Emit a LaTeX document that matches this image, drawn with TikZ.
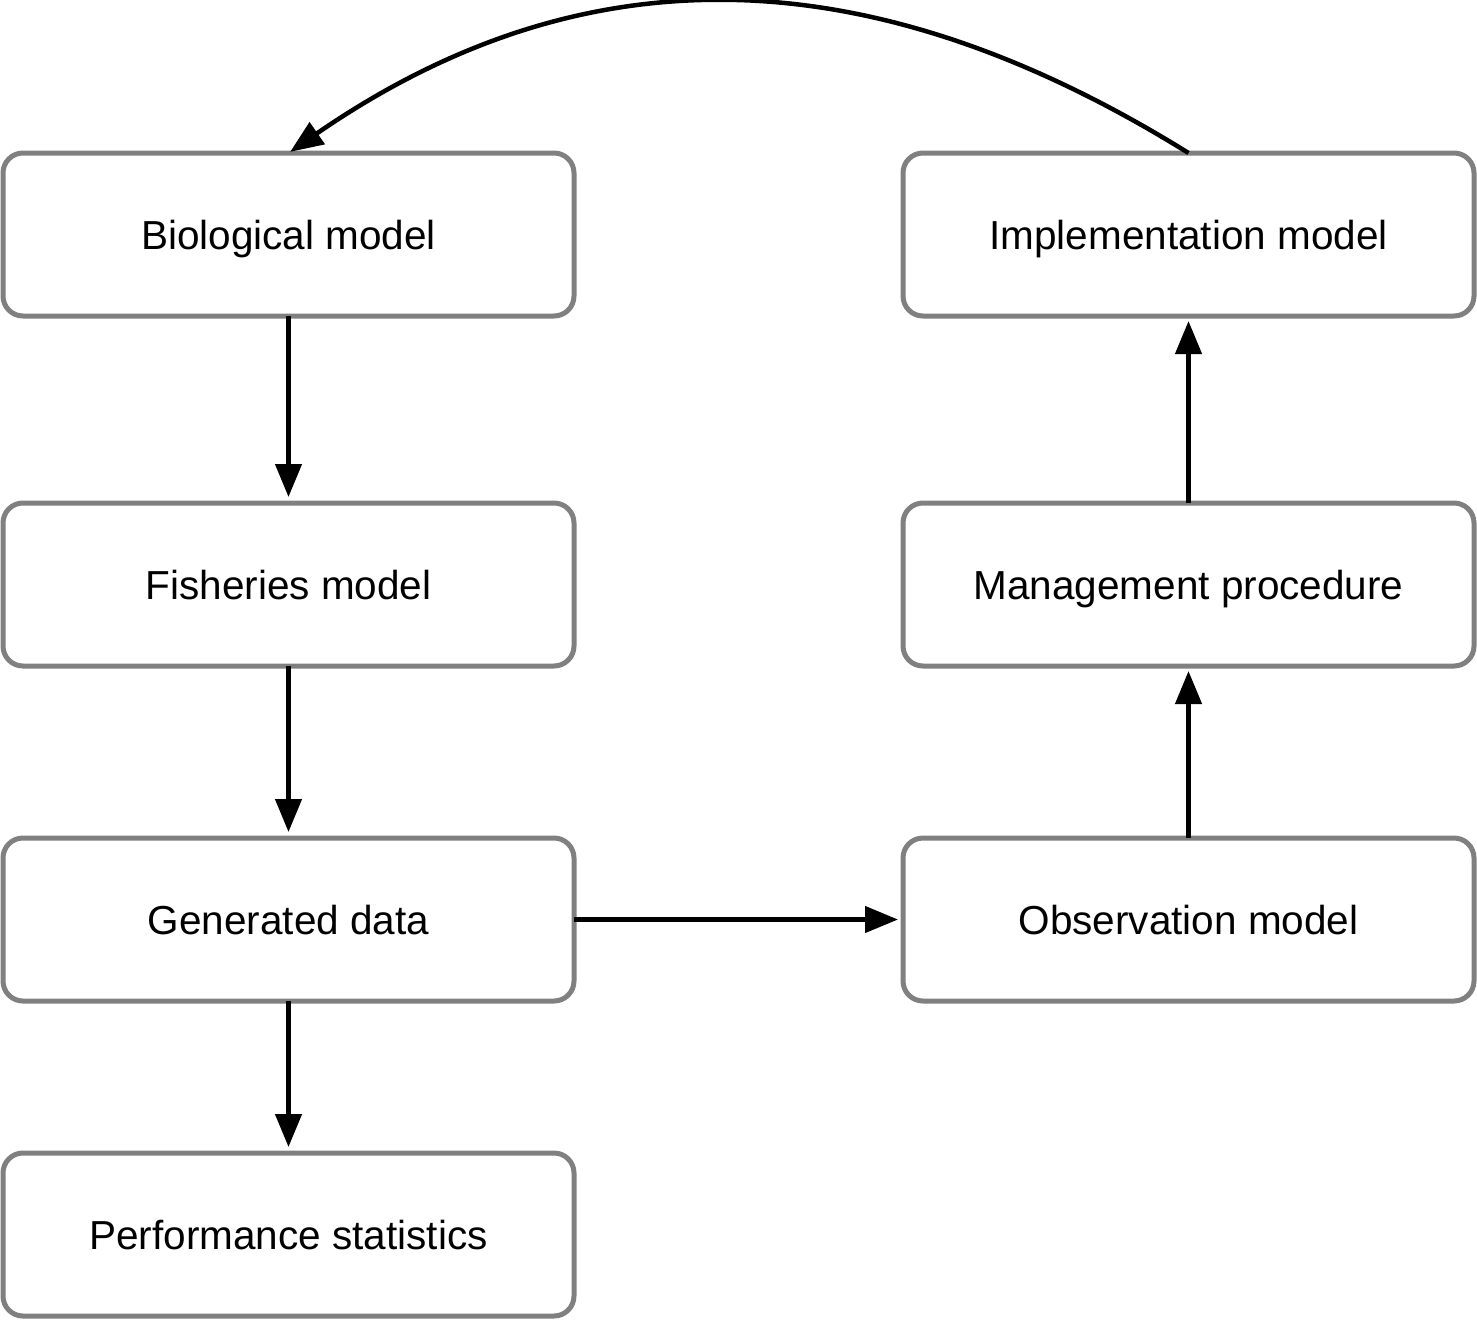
\documentclass[tikz,border=0pt]{standalone}
\usepackage{fontspec}
\setmainfont{Liberation Sans}
\usetikzlibrary{arrows.meta}
\definecolor{boxgray}{RGB}{128,128,128}
\begin{document}
\begin{tikzpicture}[x=1pt,y=-1pt,
  box/.style={draw=boxgray, line width=5pt, rounded corners=20pt, fill=white,
    minimum width=571pt, minimum height=163pt, inner sep=0pt, outer sep=0pt,
    text height=29pt, text depth=0pt, font=\fontsize{40.5}{48}\selectfont},
  conn/.style={line width=4.5pt, -{Triangle[length=33pt,width=26pt]}}]
\useasboundingbox (0,0) rectangle (1477,1320);
\node[box] (bio) at (288.5,234.5) {Biological model};
\node[box] (fish) at (288.5,584.5) {Fisheries model};
\node[box] (gen) at (288.5,919.5) {Generated data};
\node[box] (perf) at (288.5,1234.5) {Performance statistics};
\node[box] (impl) at (1188.5,234.5) {Implementation model};
\node[box] (mgmt) at (1188.5,584.5) {Management procedure};
\node[box] (obs) at (1188.5,919.5) {Observation model};
\draw[conn, shorten >=6pt] (bio.south) -- (fish.north);
\draw[conn, shorten >=6pt] (fish.south) -- (gen.north);
\draw[conn, shorten >=6pt] (gen.south) -- (perf.north);
\draw[conn, shorten >=5pt] (gen.east) -- (obs.west);
\draw[conn, shorten >=5pt] (obs.north) -- (mgmt.south);
\draw[conn, shorten >=5pt] (mgmt.north) -- (impl.south);
\draw[conn, shorten >=2pt] (impl.north) .. controls (865,-48) and (580,-48) .. (bio.north);
\end{tikzpicture}
\end{document}
